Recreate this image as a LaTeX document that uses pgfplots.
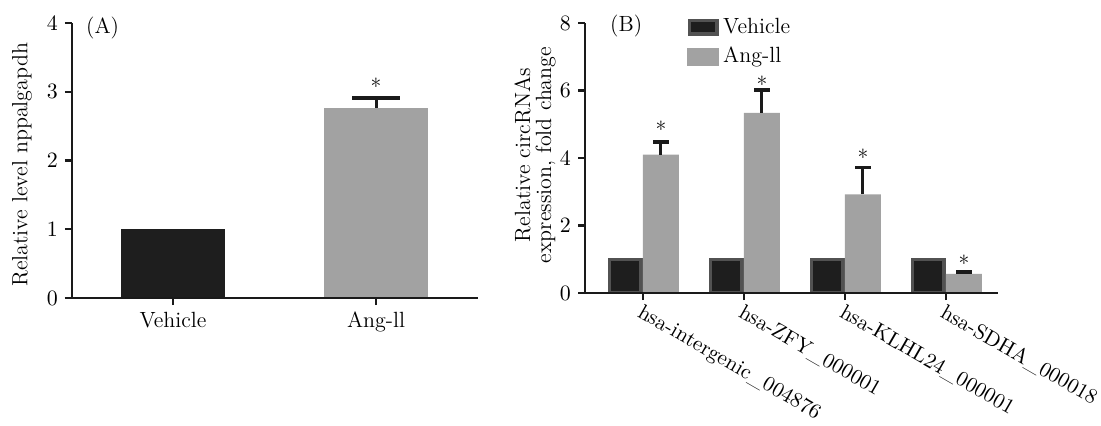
\documentclass[border=0pt]{standalone}
\usepackage{pgfplots}
\usepackage{pgfplotstable}
\pgfplotsset{compat=1.18}
\definecolor{darkbar}{HTML}{1E1E1E}
\definecolor{graybar}{HTML}{A2A2A2}
\definecolor{vborder}{HTML}{525252}
\definecolor{axiscol}{HTML}{1A1A1A}
\pgfplotsset{
  myaxis/.style={
    scale only axis, anchor=south west, axis on top, clip mode=individual,
    axis lines=left, axis line style={-, line width=1.1pt, color=axiscol},
    tick style={line width=1.1pt, color=axiscol}, tick align=outside,
    major tick length=3.5pt, minor tick num=0,
    font=\fontsize{11}{13}\selectfont, ymin=0,
  },
  myerr/.style={error bars/.cd, y dir=plus, y explicit,
    error bar style={line width=1.5pt, color=axiscol},
    error mark options={line width=1.75pt, mark size=#1, color=axiscol, rotate=90}},
  stars/.style={draw=none, mark=none, forget plot, nodes near coords={*},
    every node near coord/.append style={anchor=south, inner sep=0pt, yshift=-5.8pt, text=black}},
}
\pgfplotstableread{
x y
0 1.00
}\vehA
\pgfplotstableread{
x y e
1 2.77 0.14
}\angA
\pgfplotstableread{
x s
1 3.13
}\starA
\pgfplotstableread{
x y
0 1
1 1
2 1
3 1
}\vehB
\pgfplotstableread{
x y e
0 4.10 0.37
1 5.34 0.68
2 2.92 0.80
3 0.57 0.05
}\angB
\pgfplotstableread{
x s
0 4.93
1 6.26
2 4.12
3 0.98
}\starB
\begin{document}
\begin{tikzpicture}
\useasboundingbox (0,0) rectangle (550.5pt,212.5pt);
% Panel A
\begin{axis}[myaxis, at={(36pt,63.5pt)}, width=203pt, height=137.5pt,
  xmin=-0.4975, xmax=1.502, ymax=4,
  xtick={0,1}, xticklabels={Vehicle,Ang-ll}, ytick={0,1,2,3,4},
  x axis line style={shorten <=-3.5pt},
  ylabel={Relative level nppalgapdh},
  ylabel style={at={(axis description cs:-0.123,0.484)}, anchor=center}]
\addplot[ybar, bar width=52pt, bar shift=0pt, fill=darkbar, draw=none] table[x=x,y=y] {\vehA};
\addplot[ybar, bar width=52pt, bar shift=0pt, fill=graybar, draw=none, myerr=12pt] table[x=x,y=y,y error plus=e] {\angA};
\addplot[stars] table[x=x,y=s] {\starA};
\node[anchor=north west, inner sep=0pt] at (axis description cs:0.034,1.025) {(A)};
\end{axis}
% Panel B
\begin{axis}[myaxis, at={(292.5pt,66pt)}, width=206.5pt, height=135pt,
  xmin=-0.574, xmax=3.515, ymax=8,
  xtick={0,1,2,3}, ytick={0,2,4,6,8},
  xticklabels={hsa-intergenic\_004876,hsa-ZFY\_000001,hsa-KLHL24\_000001,hsa-SDHA\_000018},
  xticklabel style={rotate=-30, anchor=north west, inner sep=1pt, font=\fontsize{10.6}{12}\selectfont},
  ylabel={Relative circRNAs\\expression, fold change},
  ylabel style={align=center, at={(axis description cs:-0.121,0.511)}, anchor=center,
    font=\fontsize{11}{10.5}\selectfont},
  legend style={at={(axis description cs:0.247,1.035)}, anchor=north west, draw=none, fill=none,
    inner sep=0pt, row sep=1.5pt, font=\fontsize{11}{13}\selectfont},
  legend cell align=left]
\addlegendimage{legend image code/.code={\draw[fill=darkbar, draw=vborder, line width=1.75pt] (0.875pt,-3.375pt) rectangle (14.625pt,3.375pt);}}
\addlegendentry{Vehicle}
\addlegendimage{legend image code/.code={\fill[graybar] (0pt,-4.25pt) rectangle (15.5pt,4.25pt);}}
\addlegendentry{Ang-ll}
\addplot[ybar, forget plot, bar width=15.75pt, bar shift=0pt, xshift=-8.75pt, fill=darkbar, draw=vborder, line width=1.75pt] table[x=x,y=y] {\vehB};
\addplot[ybar, forget plot, bar width=18pt, bar shift=0pt, xshift=9pt, fill=graybar, draw=none, myerr=3.9pt] table[x=x,y=y,y error plus=e] {\angB};
\addplot[stars, xshift=9pt] table[x=x,y=s] {\starB};
\node[anchor=north west, inner sep=0pt] at (axis description cs:0.06,1.033) {(B)};
\end{axis}
\end{tikzpicture}
\end{document}
